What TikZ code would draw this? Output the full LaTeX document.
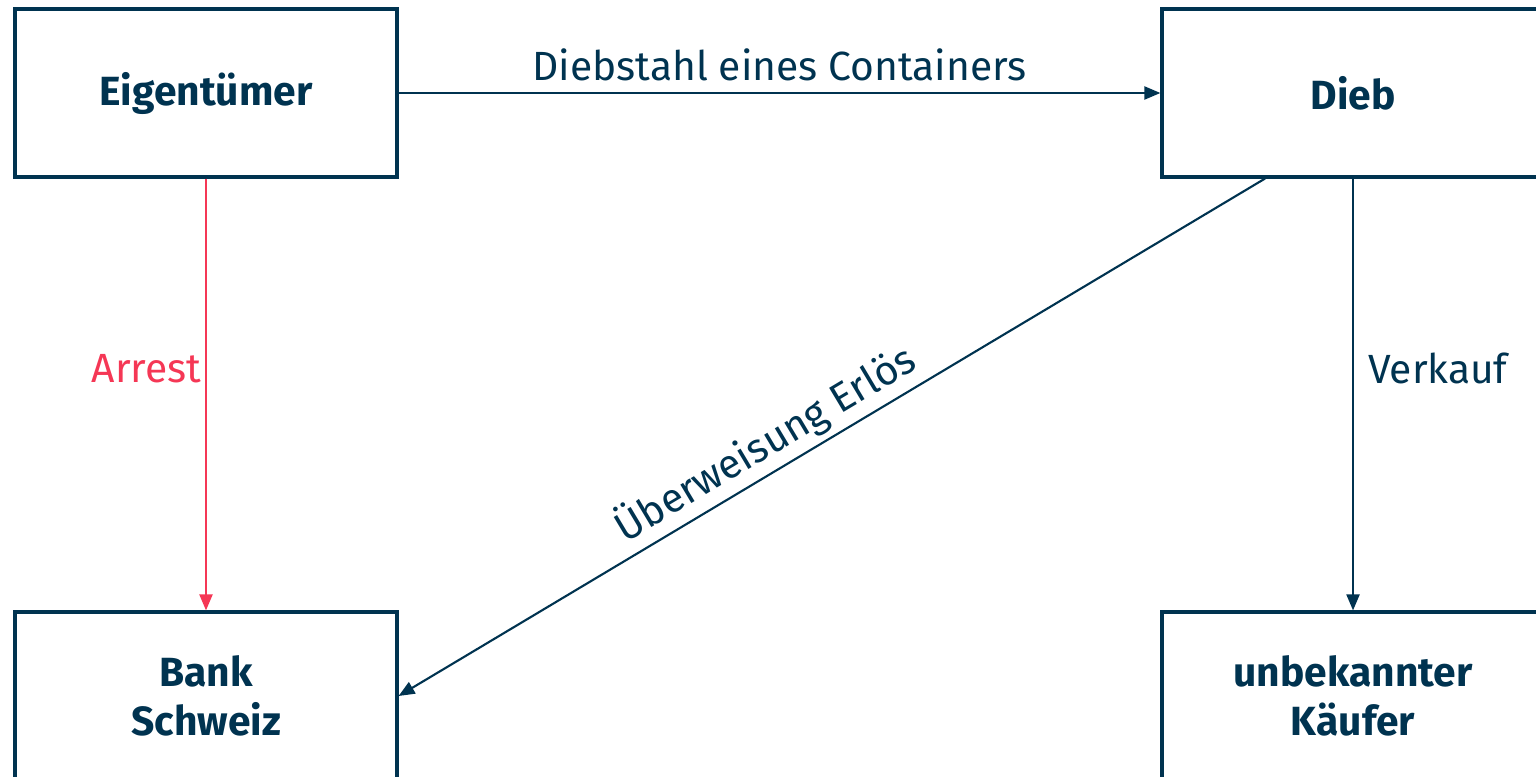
\documentclass[tikz,border=0pt]{standalone}
\usepackage{fontspec}
\setmainfont{Fira Sans}
\usepackage{xcolor}
\usetikzlibrary{calc,positioning}
\usetikzlibrary{arrows.meta}

\definecolor{navy}{RGB}{0,51,80}
\definecolor{arrestred}{RGB}{245,55,85}

\begin{document}
\begin{tikzpicture}[font=\fontsize{11.6}{14}\selectfont]
      \tikzstyle{party} = [draw=navy, line width=0.9pt, rectangle, minimum width=3.82cm, minimum height=1.68cm, inner sep=2pt, align=center, text=navy, font=\fontsize{11.6}{14}\selectfont\bfseries]
      \tikzstyle{flow} = [draw=navy, line width=0.6pt, -{Triangle[length=0.16cm,width=0.13cm]}]
      \tikzstyle{lbl} = [text=navy, inner sep=3pt]

      \useasboundingbox (0,0) rectangle (15.36,-7.77);
      \clip (0,0) rectangle (15.36,-7.77);

      \node[party] (eig) at (2.06, -0.93) {Eigentümer};
      \node[party] (dieb) at (13.53, -0.93) {Dieb};
      \node[party] (bank) at (2.06, -6.96) {Bank\\Schweiz};
      \node[party] (kaeufer) at (13.53, -6.96) {unbekannter\\Käufer};
      % connections

      \draw[flow] (eig) to node[lbl, above] {Diebstahl eines Containers} (dieb);
      \draw[flow, draw=arrestred, fill=arrestred] (eig) to node[pos=0.44, lbl, left, inner sep=1pt, text=arrestred] {Arrest} (bank);
      \draw[flow] (dieb) to node[pos=0.44, lbl, right, inner sep=4pt] {Verkauf} (kaeufer);
      \draw[flow] ([xshift=-0.88cm]dieb.south) to node[pos=0.56, lbl, above, sloped, inner sep=1.5pt] {Überweisung Erlös} (bank.east);
    \end{tikzpicture}
\end{document}
